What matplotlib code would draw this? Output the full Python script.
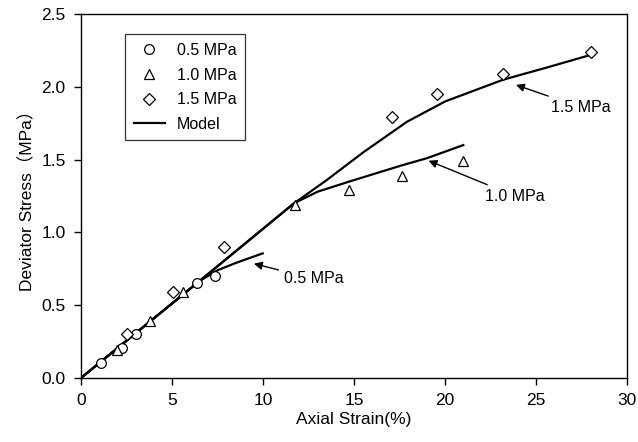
import numpy as np
import matplotlib
matplotlib.use("Agg")
import matplotlib.pyplot as plt

plt.rcParams['font.family'] = ['Liberation Sans', 'Noto Sans CJK SC', 'DejaVu Sans']

# measured points
strain_05 = [1.08, 2.24, 3.04, 6.37, 7.36]
stress_05 = [0.105, 0.204, 0.30, 0.65, 0.70]

strain_10 = [2.0, 3.8, 5.58, 11.76, 14.7, 17.63, 21.0]
stress_10 = [0.19, 0.39, 0.59, 1.19, 1.29, 1.39, 1.49]

strain_15 = [2.55, 5.06, 7.87, 17.1, 19.58, 23.19, 28.0]
stress_15 = [0.30, 0.59, 0.90, 1.795, 1.95, 2.09, 2.24]

# model curves
model_x_05 = [0, 6.5, 7.5, 8.5, 9.98]
model_y_05 = [0, 0.665, 0.74, 0.79, 0.856]

model_x_10 = [0, 6.5, 11.7, 13.0, 14.75, 17.6, 19.0, 21.0]
model_y_10 = [0, 0.665, 1.2, 1.28, 1.35, 1.46, 1.51, 1.60]

model_x_15 = [0, 6.5, 11.7, 13.5, 15.5, 17.9, 20.0, 23.2, 25.5, 28.0]
model_y_15 = [0, 0.665, 1.2, 1.36, 1.55, 1.76, 1.90, 2.05, 2.13, 2.22]

fig = plt.figure(figsize=(6.38, 4.42), dpi=100)
ax = fig.add_axes([0.127, 0.145, 0.856, 0.823])

ax.plot(model_x_05, model_y_05, color='black', lw=1.6)
ax.plot(model_x_10, model_y_10, color='black', lw=1.6)
ax.plot(model_x_15, model_y_15, color='black', lw=1.6, label='Model')

ax.plot(strain_05, stress_05, 'o', mfc='white', mec='black', ms=7, mew=0.9, label='0.5 MPa', zorder=3)
ax.plot(strain_10, stress_10, '^', mfc='white', mec='black', ms=7.5, mew=0.9, label='1.0 MPa', zorder=3)
ax.plot(strain_15, stress_15, 'D', mfc='white', mec='black', ms=6, mew=0.9, label='1.5 MPa', zorder=3)

arrow = dict(arrowstyle='-|>', color='black', lw=1.0, mutation_scale=12)
ax.annotate('0.5 MPa', xy=(9.35, 0.79), xytext=(11.15, 0.68), fontsize=11.5,
            va='center', ha='left', arrowprops=arrow)
ax.annotate('1.0 MPa', xy=(18.95, 1.50), xytext=(22.2, 1.25), fontsize=11.5,
            va='center', ha='left', arrowprops=arrow)
ax.annotate('1.5 MPa', xy=(23.75, 2.02), xytext=(25.8, 1.86), fontsize=11.5,
            va='center', ha='left', arrowprops=arrow)

handles, labels = ax.get_legend_handles_labels()
order = [1, 2, 3, 0]
leg = ax.legend([handles[i] for i in order], [labels[i] for i in order],
                loc='upper left', bbox_to_anchor=(0.08, 0.945), borderaxespad=0,
                fontsize=11.5, frameon=True, fancybox=False, edgecolor='black',
                handlelength=2.0, handletextpad=0.7, labelspacing=0.6, borderpad=0.55)
leg.get_frame().set_linewidth(0.9)

ax.set_xlim(0, 30)
ax.set_ylim(0, 2.5)
ax.set_xticks(np.arange(0, 31, 5))
ax.set_yticks(np.arange(0, 2.51, 0.5))
ax.set_yticklabels([f'{v:.1f}' for v in np.arange(0, 2.51, 0.5)])
ax.tick_params(direction='out', length=5, width=1, labelsize=12.5, pad=6)
ax.set_xlabel('Axial Strain(%)', fontsize=12.5, labelpad=3)
ax.set_ylabel('Deviator Stress（MPa）', fontsize=12.5, labelpad=4)
for s in ax.spines.values():
    s.set_linewidth(1.0)

fig.savefig('out.png', dpi=100)
